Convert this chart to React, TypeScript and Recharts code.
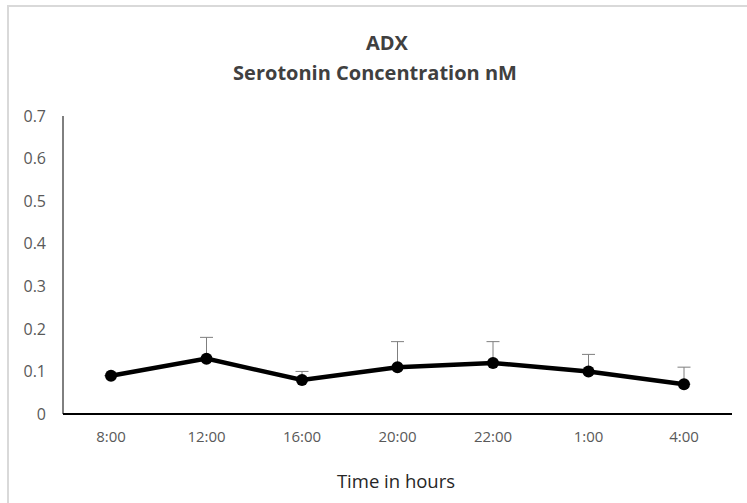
import { LineChart, Line, XAxis, YAxis, ErrorBar } from "recharts";

const times = ["8:00", "12:00", "16:00", "20:00", "22:00", "1:00", "4:00"];
const serotonin = [0.09, 0.13, 0.08, 0.11, 0.12, 0.1, 0.07];
const errUpper = [0, 0.05, 0.02, 0.06, 0.05, 0.04, 0.04];
const yTicks = [0, 0.1, 0.2, 0.3, 0.4, 0.5, 0.6, 0.7];

const data = times.map((t, i) => ({
  time: t,
  value: serotonin[i],
  err: [0, errUpper[i]],
}));

const font = "'Open Sans', 'Liberation Sans', sans-serif";

export default function App() {
  return (
    <div style={page}>
      <div style={frame} />
      <div style={{ ...titleStyle, top: 30, left: 9 }}>ADX</div>
      <div style={{ ...titleStyle, top: 60, left: -3 }}>Serotonin Concentration nM</div>
      <LineChart
        width={747}
        height={503}
        data={data}
        margin={{ top: 116, right: 15, bottom: 59, left: 13 }}
      >
        <XAxis
          dataKey="time"
          height={30}
          padding={{ left: 48, right: 48 }}
          tickSize={0}
          tickMargin={17}
          tick={{ fill: "#595959", fontSize: 15, fontFamily: font }}
          axisLine={{ stroke: "#000", strokeWidth: 2 }}
          tickLine={false}
        />
        <YAxis
          width={50}
          domain={[0, 0.7]}
          ticks={yTicks}
          tickSize={0}
          tickMargin={17}
          tickFormatter={(v: number) => (v === 0 ? "0" : v.toFixed(1))}
          tick={{ fill: "#595959", fontSize: 16, fontFamily: font }}
          axisLine={{ stroke: "#000", strokeWidth: 1 }}
          tickLine={false}
        />
        <Line
          type="linear"
          dataKey="value"
          stroke="#000"
          strokeWidth={4.5}
          dot={{ r: 6, fill: "#000", stroke: "#000", strokeWidth: 0 }}
          isAnimationActive={false}
        >
          <ErrorBar dataKey="err" direction="y" width={6.5} stroke="#7f7f7f" strokeWidth={1} isAnimationActive={false} />
        </Line>
      </LineChart>
      <div style={axisTitle}>Time in hours</div>
    </div>
  );
}

const page: React.CSSProperties = {
  position: "absolute",
  left: 0,
  top: 0,
  width: 747,
  height: 503,
  overflow: "hidden",
  background: "#fff",
  fontFamily: font,
};

const frame: React.CSSProperties = {
  position: "absolute",
  left: 7,
  top: 5,
  width: 800,
  height: 600,
  borderLeft: "2px solid #d9d9d9",
  borderTop: "2px solid #d9d9d9",
};

const titleStyle: React.CSSProperties = {
  position: "absolute",
  width: 756,
  textAlign: "center",
  fontSize: 20,
  fontWeight: 700,
  color: "#404040",
  lineHeight: "26px",
};

const axisTitle: React.CSSProperties = {
  position: "absolute",
  left: 0,
  top: 469,
  width: 792,
  textAlign: "center",
  fontSize: 18.5,
  color: "#262626",
  lineHeight: "24px",
};
